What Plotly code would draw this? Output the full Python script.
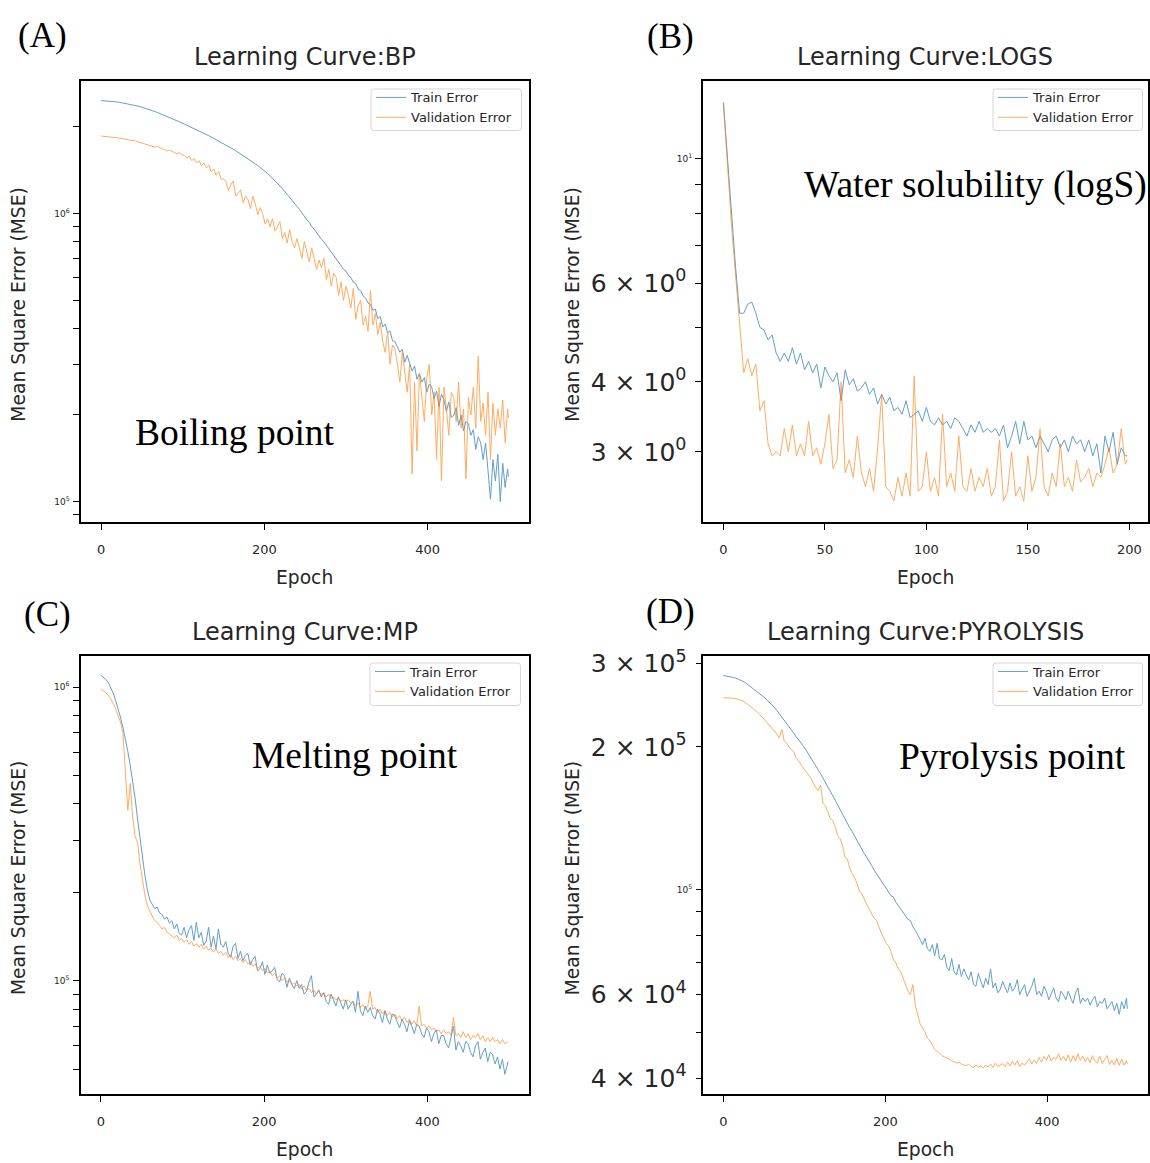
import plotly.graph_objects as go

# ---------------- data ----------------
EPOCHS_500 = list(range(0, 500, 3)) + [499]
EPOCHS_200 = list(range(0, 200, 2)) + [199]

# Panel A: boiling point, MSE in thousands (one row = 30 epochs)
A_TRAIN_K = [2470, 2468, 2465, 2461, 2456, 2452, 2446, 2440, 2432, 2425,
             2416, 2406, 2397, 2386, 2376, 2364, 2352, 2339, 2325, 2310,
             2295, 2279, 2262, 2246, 2229, 2211, 2193, 2175, 2156, 2137,
             2118, 2101, 2084, 2066, 2048, 2030, 2012, 1994, 1976, 1958,
             1939, 1920, 1902, 1883, 1865, 1846, 1827, 1808, 1789, 1769,
             1750, 1731, 1712, 1692, 1673, 1653, 1633, 1613, 1593, 1572,
             1552, 1532, 1511, 1490, 1469, 1448, 1426, 1404, 1378, 1353,
             1328, 1302, 1275, 1249, 1222, 1195, 1168, 1141, 1114, 1087,
             1060, 1035, 1004, 982, 952, 934, 902, 884, 858, 838,
             815, 798, 776, 752, 738, 716, 692, 678, 660, 642,
             632, 610, 600, 578, 572, 546, 540, 518, 510, 490,
             484, 462, 466, 432, 440, 404, 414, 386, 392, 362,
             360, 346, 330, 338, 305, 322, 300, 284, 296, 266,
             278, 260, 270, 240, 256, 250, 228, 242, 214, 236,
             226, 206, 222, 196, 200, 212, 184, 200, 176, 190,
             186, 170, 178, 152, 168, 160, 140, 160, 128, 102,
             140, 118, 146, 100, 136, 112, 130, 122]
A_VAL_K = [1860, 1858, 1855, 1851, 1848, 1843, 1838, 1833, 1828, 1822,
           1815, 1808, 1796, 1800, 1788, 1776, 1770, 1752, 1748, 1730,
           1722, 1712, 1702, 1714, 1690, 1678, 1668, 1650, 1662, 1640,
           1630, 1612, 1632, 1598, 1596, 1560, 1584, 1528, 1552, 1500,
           1530, 1468, 1500, 1440, 1472, 1396, 1430, 1360, 1400, 1318,
           1320, 1290, 1200, 1260, 1300, 1150, 1180, 1210, 1090, 1150,
           1120, 1040, 1150, 1080, 990, 1050, 1000, 920, 960, 900,
           960, 870, 900, 940, 820, 860, 790, 880, 800, 760,
           820, 760, 700, 800, 740, 680, 760, 700, 640, 690,
           650, 700, 590, 640, 560, 620, 600, 520, 580, 500,
           560, 520, 470, 550, 430, 480, 500, 410, 440, 390,
           540, 410, 450, 380, 420, 360, 330, 390, 300, 350,
           340, 300, 260, 330, 280, 240, 300, 125, 260, 150,
           280, 230, 190, 270, 300, 200, 240, 140, 250, 118,
           250, 210, 170, 240, 230, 190, 260, 180, 210, 120,
           230, 200, 250, 180, 320, 190, 220, 170, 240, 140,
           220, 170, 210, 180, 225, 160, 210, 195]

# Panel B: water solubility (logS), MSE (one row = 20 epochs)
B_TRAIN = [12.6, 10.0, 7.8, 6.4, 5.3, 5.3, 5.5, 5.55, 5.3, 5.0,
           4.95, 4.75, 4.85, 4.5, 4.35, 4.5, 4.35, 4.6, 4.3, 4.5,
           4.2, 4.35, 4.15, 4.3, 3.9, 4.25, 4.1, 4.0, 4.15, 3.7,
           4.2, 3.95, 4.05, 3.85, 3.9, 4.0, 3.8, 3.9, 3.65, 3.8,
           3.65, 3.75, 3.55, 3.6, 3.5, 3.7, 3.45, 3.5, 3.55, 3.4,
           3.6, 3.4, 3.35, 3.45, 3.35, 3.4, 3.3, 3.45, 3.4, 3.3,
           3.2, 3.35, 3.25, 3.4, 3.25, 3.3, 3.25, 3.3, 3.2, 3.35,
           3.05, 3.2, 3.4, 3.1, 3.4, 3.15, 3.2, 3.05, 3.2, 3.1,
           3.0, 3.15, 3.2, 3.05, 3.15, 3.0, 3.2, 3.1, 3.15, 3.0,
           3.15, 2.95, 3.1, 2.75, 3.2, 3.0, 3.25, 2.85, 3.05, 2.95,
           2.95]
B_VAL = [12.6, 9.8, 7.6, 6.2, 5.0, 4.15, 4.4, 4.1, 4.3, 3.55,
         3.7, 3.1, 2.95, 3.0, 2.95, 3.3, 3.0, 3.35, 2.95, 3.1,
         2.95, 3.4, 2.95, 3.05, 2.85, 3.1, 3.5, 2.8, 2.9, 4.0,
         2.75, 2.9, 2.7, 3.2, 2.75, 2.6, 2.8, 2.55, 3.05, 3.8,
         2.6, 2.55, 2.45, 2.7, 2.5, 2.75, 2.5, 4.1, 2.55, 2.6,
         3.0, 2.55, 2.7, 2.5, 3.5, 2.6, 2.75, 2.55, 3.2, 2.6,
         2.55, 2.8, 2.55, 2.7, 2.6, 2.8, 2.5, 2.6, 3.15, 2.45,
         2.55, 3.0, 2.5, 2.6, 2.45, 2.95, 2.55, 2.7, 3.3, 2.6,
         2.5, 2.75, 2.6, 3.1, 2.6, 2.7, 2.55, 2.9, 2.65, 2.7,
         2.8, 2.6, 2.75, 2.7, 2.85, 3.05, 2.75, 2.85, 3.3, 2.85,
         2.9]

# Panel C: melting point, MSE in thousands
C_TRAIN_K = [1096, 1082, 1062, 1037, 1000, 955, 902, 847, 790, 730,
             668, 604, 540, 480, 418, 355, 305, 262, 228, 204,
             188, 182, 176, 178, 170, 168, 162, 165, 157, 160,
             150, 156, 145, 143, 152, 140, 149, 154, 137, 158,
             140, 146, 132, 136, 152, 130, 142, 128, 150, 133,
             130, 136, 124, 120, 131, 134, 119, 126, 117, 122,
             124, 113, 118, 121, 108, 110, 116, 105, 113, 106,
             108, 111, 101, 99, 106, 104, 95, 102, 97, 94,
             100, 94, 97, 90, 92, 99, 104, 88, 90, 93,
             88, 91, 85, 83, 90, 86, 82, 88, 84, 80,
             86, 80, 83, 85, 78, 92, 79, 76, 82, 78,
             81, 76, 74, 80, 77, 72, 79, 74, 71, 77,
             76, 72, 69, 74, 71, 67, 73, 70, 66, 71,
             70, 66, 64, 69, 67, 62, 66, 68, 61, 65,
             65, 61, 59, 64, 70, 58, 62, 60, 57, 62,
             61, 57, 55, 60, 62, 54, 57, 59, 53, 57,
             56, 52, 55, 50, 54, 48, 52, 53]
C_VAL_K = [986, 975, 958, 938, 914, 880, 845, 800, 760, 700,
           520, 380, 470, 360, 310, 295, 250, 220, 195, 180,
           172, 166, 160, 158, 154, 150, 152, 146, 144, 142,
           140, 143, 137, 139, 135, 138, 133, 136, 131, 134,
           130, 133, 128, 131, 127, 129, 125, 128, 124, 126,
           122, 125, 120, 123, 118, 121, 117, 119, 115, 118,
           114, 116, 112, 114, 110, 112, 108, 110, 106, 108,
           104, 106, 102, 104, 100, 102, 99, 100, 97, 98,
           96, 97, 94, 96, 93, 94, 91, 93, 90, 92,
           89, 91, 88, 90, 87, 88, 86, 87, 85, 86,
           85, 86, 84, 85, 82, 84, 81, 83, 80, 82,
           92, 80, 81, 78, 80, 77, 79, 76, 78, 75,
           77, 74, 76, 73, 75, 72, 74, 71, 73, 70,
           82, 70, 71, 69, 70, 68, 69, 67, 68, 66,
           68, 66, 67, 65, 75, 65, 66, 64, 67, 64,
           66, 63, 65, 64, 66, 63, 65, 62, 64, 62,
           64, 62, 63, 61, 63, 61, 62, 62]

# Panel D: pyrolysis point, MSE in thousands
D_TRAIN_K = [283, 282.6, 282, 281.3, 280.4, 279.4, 278.2, 276.8, 275.2, 273.5,
             271, 268.6, 266.2, 263.8, 261.4, 259, 256.8, 254, 250.8, 247.8,
             246, 242.4, 238.8, 235.2, 231.6, 228, 224.4, 220.8, 217.2, 213.6,
             210, 207, 204, 200.5, 197, 193, 189.5, 186, 182.5, 179,
             175.5, 172, 168.5, 165, 161.5, 158, 154.5, 151, 147.5, 144,
             141, 138, 135, 132.5, 129.5, 127, 124, 121.5, 119, 117,
             115, 112.5, 110, 108, 106, 104.5, 102.5, 100.5, 98.5, 97,
             96.5, 94, 92.5, 91, 89.5, 88, 86.5, 86, 83.5, 82,
             80.5, 78.5, 76.5, 79, 75, 74, 76.5, 72.5, 77, 71.5,
             71, 73, 68.5, 67.5, 71.5, 67, 66, 69.5, 65.5, 68,
             66, 64.5, 67, 63, 62.5, 66.5, 64, 62, 65, 63,
             68, 62, 63.5, 60.5, 61.5, 64, 62, 60.5, 63.5, 61,
             62, 64.5, 60, 61.5, 63, 59.5, 61, 62.5, 65, 60,
             61, 59.5, 62.5, 61, 58.5, 60, 62, 59, 58, 61,
             60, 58.5, 61, 59, 57.5, 60.5, 62, 57.5, 59, 58,
             59, 57, 58.5, 59.5, 56.5, 58, 57.5, 59, 56, 57,
             58, 55.5, 57.5, 54.5, 58, 56, 59, 56]
D_VAL_K = [254, 254, 254, 253.7, 253.4, 253, 252.3, 251.2, 250, 248.3,
           246, 244, 241.8, 239.6, 237, 234, 231, 228, 225, 222,
           219, 216, 213, 209, 218, 206, 204, 200, 197, 195,
           189, 187, 183, 180, 178, 175, 172, 168, 164, 162,
           166, 152, 150, 146, 141, 140, 136, 130, 128, 124,
           117, 116, 111, 108, 106, 103, 99, 98, 95, 93,
           91, 89, 87, 86, 83, 81, 79, 77, 76, 74,
           71, 70, 68, 67, 65, 63, 61, 60, 63, 57,
           54, 52, 51, 50, 48.5, 48, 47, 46, 45.5, 45.2,
           44.6, 44.3, 44.2, 43.8, 43.5, 43.3, 43, 43.2, 42.8, 42.6,
           42.5, 42.8, 42.3, 42.1, 42.6, 42.2, 42.4, 42, 42.6, 42.2,
           42.8, 42.1, 43, 42.3, 42.6, 42.9, 42.3, 43.2, 42.4, 43.4,
           42.6, 43.5, 42.3, 43, 42.6, 43.2, 43.9, 42.8, 43.7, 42.9,
           44.2, 43.2, 44.4, 43.6, 44.8, 43.4, 44.2, 43.8, 45, 43.6,
           44.4, 43.5, 44.8, 43.2, 44.6, 43.4, 45, 43.6, 44.5, 43.3,
           44.2, 43.1, 44.6, 43.5, 43, 44.5, 42.9, 43.8, 44.6, 42.7,
           43.6, 42.6, 44, 42.5, 43.8, 42.6, 43.5, 42.8]

TITLES = ["Learning Curve:BP", "Learning Curve:LOGS", "Learning Curve:MP", "Learning Curve:PYROLYSIS"]
LETTERS = ["(A)", "(B)", "(C)", "(D)"]
LABELS = ["Boiling point", "Water solubility (logS)", "Melting point", "Pyrolysis point"]
SERIES_NAMES = ["Train Error", "Validation Error"]

X_TICKS_500 = [0, 200, 400]
X_TICKS_200 = [0, 50, 100, 150, 200]

def sup(b, e):
    return f"{b}<sup>{e}</sup>"

# y ticks: large labelled ticks, small labelled ticks, unlabelled ticks
A_BIG, A_BIG_TXT = [], []
A_SMALL, A_SMALL_TXT = [1e5, 1e6], [sup(10, 5), sup(10, 6)]
A_MINOR = [9e4, 2e5, 3e5, 4e5, 5e5, 6e5, 7e5, 8e5, 9e5, 2e6]

B_BIG, B_BIG_TXT = [3, 4, 6], ["3 × " + sup(10, 0), "4 × " + sup(10, 0), "6 × " + sup(10, 0)]
B_SMALL, B_SMALL_TXT = [10], [sup(10, 1)]
B_MINOR = [5, 7, 8, 9]

C_BIG, C_BIG_TXT = [], []
C_SMALL, C_SMALL_TXT = [1e5, 1e6], [sup(10, 5), sup(10, 6)]
C_MINOR = [5e4, 6e4, 7e4, 8e4, 9e4, 2e5, 3e5, 4e5, 5e5, 6e5, 7e5, 8e5, 9e5]

D_BIG, D_BIG_TXT = [4e4, 6e4, 2e5, 3e5], ["4 × " + sup(10, 4), "6 × " + sup(10, 4),
                                          "2 × " + sup(10, 5), "3 × " + sup(10, 5)]
D_SMALL, D_SMALL_TXT = [1e5], [sup(10, 5)]
D_MINOR = [5e4, 7e4, 8e4, 9e4]

# ---------------- layout helpers ----------------
W, H = 1150, 1163
# the photographed page is offset/compressed slightly in y; map reference pixels accordingly
Y_OFF, Y_SCALE = 9.05, 0.9913
def px(x):
    return x / W
def py(y):
    return 1 - ((y - Y_OFF) / Y_SCALE) / H

BLUE = "#1f77b4"
ORANGE = "#ff7f0e"
TXT = "#262626"
SANS = "DejaVu Sans"
SERIF = "Liberation Serif"

BOXES = [(80.7, 80, 528.8, 521), (703.2, 80, 1147.5, 521),
         (80.5, 655, 528.5, 1093), (703.3, 655, 1147.5, 1093)]
LEG_BOXES = [(371, 88, 521.5, 129.5), (993, 88, 1142.5, 129.5),
             (370, 662, 520.5, 704.5), (993, 662, 1142.5, 704.5)]

panels = [
    dict(x=EPOCHS_500, tr=[v * 1000 for v in A_TRAIN_K], va=[v * 1000 for v in A_VAL_K],
         xr=[-24.95, 523.95], xt=X_TICKS_500, yr=[4.9295, 6.4608],
         big=(A_BIG, A_BIG_TXT), small=(A_SMALL, A_SMALL_TXT), minor=A_MINOR),
    dict(x=EPOCHS_200, tr=B_TRAIN, va=B_VAL,
         xr=[-9.95, 208.95], xt=X_TICKS_200, yr=[0.3518, 1.1388],
         big=(B_BIG, B_BIG_TXT), small=(B_SMALL, B_SMALL_TXT), minor=B_MINOR),
    dict(x=EPOCHS_500, tr=[v * 1000 for v in C_TRAIN_K], va=[v * 1000 for v in C_VAL_K],
         xr=[-24.95, 523.95], xt=X_TICKS_500, yr=[4.6138, 6.1057],
         big=(C_BIG, C_BIG_TXT), small=(C_SMALL, C_SMALL_TXT), minor=C_MINOR),
    dict(x=EPOCHS_500, tr=[v * 1000 for v in D_TRAIN_K], va=[v * 1000 for v in D_VAL_K],
         xr=[-24.95, 523.95], xt=X_TICKS_500, yr=[4.5682, 5.4930],
         big=(D_BIG, D_BIG_TXT), small=(D_SMALL, D_SMALL_TXT), minor=D_MINOR),
]

fig = go.Figure()
layout = dict(width=W, height=H, margin=dict(l=0, r=0, t=0, b=0),
              paper_bgcolor="white", plot_bgcolor="white", showlegend=True)
annotations = []
shapes = []

def rounded_box(x0, y0, x1, y1, r=3):
    X0, X1 = px(x0), px(x1)
    Y0, Y1 = py(y0), py(y1)
    rx, ry = r / W, r / H
    return (f"M {X0+rx},{Y0} L {X1-rx},{Y0} Q {X1},{Y0} {X1},{Y0-ry} "
            f"L {X1},{Y1+ry} Q {X1},{Y1} {X1-rx},{Y1} L {X0+rx},{Y1} "
            f"Q {X0},{Y1} {X0},{Y1+ry} L {X0},{Y0-ry} Q {X0},{Y0} {X0+rx},{Y0} Z")

for i, p in enumerate(panels):
    n = "" if i == 0 else str(i + 1)
    ov = str(i + 5)
    L, T, R, B = BOXES[i]
    leg = "legend" + n
    # train error on the main y axis, validation error on the identical overlay y axis
    fig.add_trace(go.Scatter(x=p["x"], y=p["tr"], mode="lines", name=SERIES_NAMES[0],
                             line=dict(color=BLUE, width=1), opacity=0.7,
                             xaxis="x" + n, yaxis="y" + n, legend=leg))
    fig.add_trace(go.Scatter(x=p["x"], y=p["va"], mode="lines", name=SERIES_NAMES[1],
                             line=dict(color=ORANGE, width=1), opacity=0.65,
                             xaxis="x" + n, yaxis="y" + ov, legend=leg))
    layout["xaxis" + n] = dict(domain=[px(L), px(R)], anchor="y" + n, range=p["xr"],
                               tickmode="array", tickvals=p["xt"], ticktext=[str(t) for t in p["xt"]],
                               ticks="outside", ticklen=6, tickwidth=1, tickcolor="black",
                               tickfont=dict(family=SANS, size=13, color=TXT),
                               showline=True, linecolor="black", linewidth=1.5, mirror=True,
                               showgrid=False, zeroline=False, ticklabelstandoff=9)
    bigv, bigt = p["big"]
    layout["yaxis" + n] = dict(domain=[py(B), py(T)], anchor="x" + n, type="log", range=p["yr"],
                               tickmode="array", tickvals=bigv, ticktext=bigt,
                               ticks="outside", ticklen=6, tickwidth=1, tickcolor="black",
                               tickfont=dict(family=SANS, size=25, color=TXT),
                               minor=dict(tickmode="array", tickvals=p["minor"] + p["small"][0],
                                          ticks="outside", ticklen=6, tickwidth=1,
                                          tickcolor="black", showgrid=False),
                               showline=True, linecolor="black", linewidth=1.5, mirror=True,
                               showgrid=False, zeroline=False, ticklabelstandoff=4)
    layout["yaxis" + ov] = dict(domain=[py(B), py(T)], anchor="x" + n, overlaying="y" + n,
                                side="left", type="log", range=p["yr"],
                                tickmode="array", tickvals=p["small"][0], ticktext=p["small"][1],
                                ticks="", tickfont=dict(family=SANS, size=9, color=TXT),
                                showline=False, showgrid=False, zeroline=False,
                                ticklabelstandoff=10)
    lx0, ly0, lx1, ly1 = LEG_BOXES[i]
    shapes.append(dict(type="path", xref="paper", yref="paper", layer="above",
                       path=rounded_box(lx0, ly0, lx1, ly1),
                       fillcolor="rgba(255,255,255,0.8)", line=dict(color="#d6d6d6", width=1)))
    layout[leg] = dict(x=px(lx0), y=py(ly0 - 6.5), xanchor="left", yanchor="top",
                       bgcolor="rgba(0,0,0,0)", borderwidth=0,
                       font=dict(family=SANS, size=13, color=TXT), tracegroupgap=0,
                       itemwidth=30)
    cx = (L + R) / 2
    annotations.append(dict(text=TITLES[i], x=px(cx), y=py(T - 24), xref="paper", yref="paper",
                            showarrow=False, xanchor="center", yanchor="middle",
                            font=dict(family=SANS, size=24, color=TXT)))
    annotations.append(dict(text="Epoch", x=px(cx), y=py(B + 55), xref="paper", yref="paper",
                            showarrow=False, xanchor="center", yanchor="middle",
                            font=dict(family=SANS, size=18.7, color=TXT)))
    annotations.append(dict(text="Mean Square Error (MSE)", x=px(L - 62.5 if i % 2 == 0 else L - 131),
                            y=py((T + B) / 2 + 3), xref="paper", yref="paper", textangle=-90,
                            showarrow=False, xanchor="center", yanchor="middle",
                            font=dict(family=SANS, size=18.7, color=TXT)))

for txt, (x, y) in zip(LETTERS, [(42, 35), (670, 36), (47, 613), (670, 610)]):
    annotations.append(dict(text=txt, x=px(x), y=py(y), xref="paper", yref="paper", showarrow=False,
                            xanchor="center", yanchor="middle", font=dict(family=SERIF, size=35, color="black")))
for txt, (x, y) in zip(LABELS, [(235.4, 432), (975.5, 184), (355, 754), (1012.7, 755)]):
    annotations.append(dict(text=txt, x=px(x), y=py(y), xref="paper", yref="paper", showarrow=False,
                            xanchor="center", yanchor="middle", font=dict(family=SERIF, size=37.5, color="black")))

layout["annotations"] = annotations
layout["shapes"] = shapes
fig.update_layout(**layout)
fig.write_html("out.html", config={"displayModeBar": False},
               post_script="var d=document.getElementById('{plot_id}');"
                           "d.style.position='fixed';d.style.top='0px';d.style.left='0px';"
                           "document.body.style.margin='0';document.body.style.padding='0';"
                           "document.documentElement.style.overflow='hidden';")
